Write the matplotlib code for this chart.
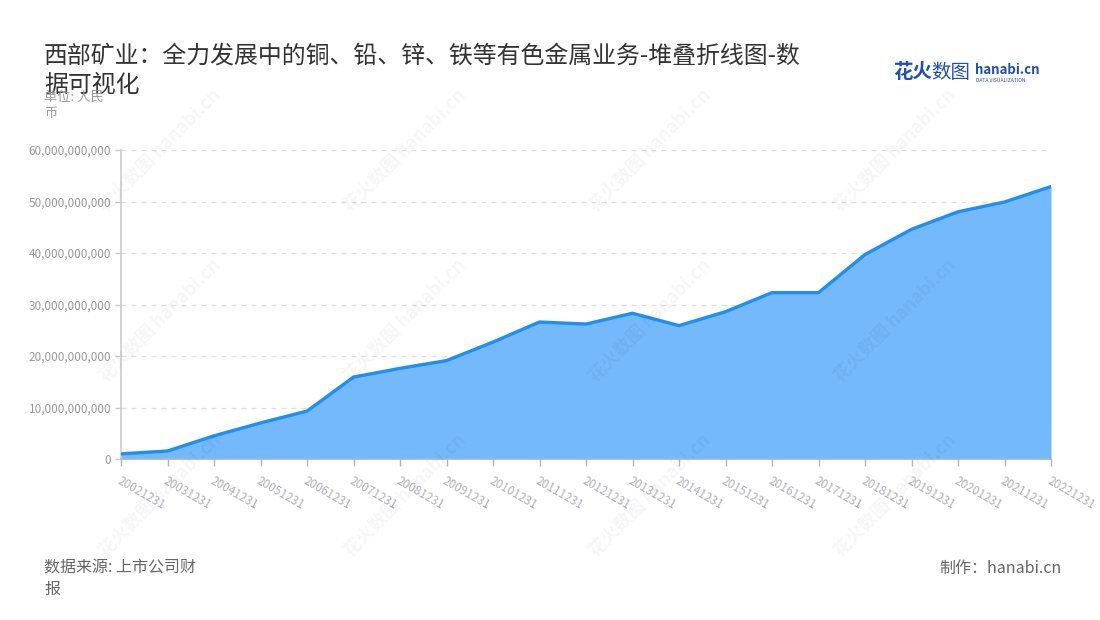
import matplotlib
matplotlib.use("Agg")
import matplotlib.pyplot as plt
from matplotlib.ticker import FuncFormatter

plt.rcParams['font.family'] = ['Noto Sans CJK SC', 'DejaVu Sans']

dates = ["20021231", "20031231", "20041231", "20051231", "20061231", "20071231",
         "20081231", "20091231", "20101231", "20111231", "20121231", "20131231",
         "20141231", "20151231", "20161231", "20171231", "20181231", "20191231",
         "20201231", "20211231", "20221231"]
values_bn = [1.0, 1.55, 4.5, 7.0, 9.3, 15.9, 17.6, 19.1, 22.7, 26.6, 26.2, 28.3,
             25.9, 28.6, 32.3, 32.3, 39.7, 44.6, 48.0, 49.9, 52.9]
values = [v * 1e9 for v in values_bn]
yticks = [0, 1e10, 2e10, 3e10, 4e10, 5e10, 6e10]

title = "西部矿业：全力发展中的铜、铅、锌、铁等有色金属业务-堆叠折线图-数\n据可视化"
unit = "单位: 人民\n币"
source = "数据来源: 上市公司财\n报"
maker = "制作：hanabi.cn"

fig = plt.figure(figsize=(11, 6.2), dpi=100)
ax = fig.add_axes([121/1100, 1-459/620, (1051-121)/1100, (459-150)/620])

x = list(range(len(dates)))
ax.fill_between(x, 0, values, color="#74b9fc", zorder=2, linewidth=0)
ax.plot(x, values, color="#1e8ff5", linewidth=2.4, zorder=3, solid_joinstyle="round")

ax.set_xlim(0, len(dates)-1)
ax.set_ylim(0, 6e10)
ax.set_yticks(yticks)
ax.yaxis.set_major_formatter(FuncFormatter(lambda v, p: f"{int(v):,}"))
ax.set_xticks(x)
ax.set_xticklabels(dates, rotation=-30, ha="left", va="top", rotation_mode="anchor")

ax.grid(axis="y", color="#dedede", linestyle=(0, (4, 4)), linewidth=0.9, zorder=1)
for s in ["top", "right"]:
    ax.spines[s].set_visible(False)
ax.spines["left"].set_color("#cccccc")
ax.spines["left"].set_linewidth(1.2)
ax.spines["bottom"].set_color("#a9b7c6")
ax.spines["bottom"].set_linewidth(1.2)
ax.spines["bottom"].set_zorder(4)
ax.tick_params(axis="y", colors="#cccccc", labelcolor="#999999", labelsize=8.5, length=4, width=1, pad=3)
ax.tick_params(axis="x", colors="#a9b7c6", labelcolor="#b0b0be", labelsize=8.5, length=5, width=1, pad=6)

# titles
fig.text(44/1100, 1-45/620, title, fontsize=17.2, color="#333333", va="top", ha="left", linespacing=1.33)
fig.text(44/1100, 1-91/620, unit, fontsize=9.5, color="#999999", va="top", ha="left", linespacing=1.25)
fig.text(44/1100, 1-560/620, source, fontsize=11.5, color="#666666", va="top", ha="left", linespacing=1.3)
fig.text(1062/1100, 1-560/620, maker, fontsize=11.5, color="#666666", va="top", ha="right")

# logo
fig.text(893/1100, 1-73/620, "花火", fontsize=14, color="#1f4fb8", weight="bold", va="center", ha="left")
fig.text(931/1100, 1-73/620, "数图", fontsize=14, color="#1f4fb8", va="center", ha="left")
fig.text(975/1100, 1-70/620, "hanabi.cn", fontsize=9.5, color="#1f4fb8", weight="bold", va="center", ha="left")
fig.text(976/1100, 1-80/620, "DATA VISUALIZATION", fontsize=3.6, color="#1f4fb8", va="center", ha="left")

# watermarks
for wx in [160, 405, 650, 895]:
    for wy in [150, 320, 495]:
        fig.text(wx/1100, 1-wy/620, "花火数图 hanabi.cn", fontsize=13, color="#000000",
                 alpha=0.04, rotation=45, ha="center", va="center", weight="bold", zorder=10)

fig.savefig("out.png", dpi=100)
